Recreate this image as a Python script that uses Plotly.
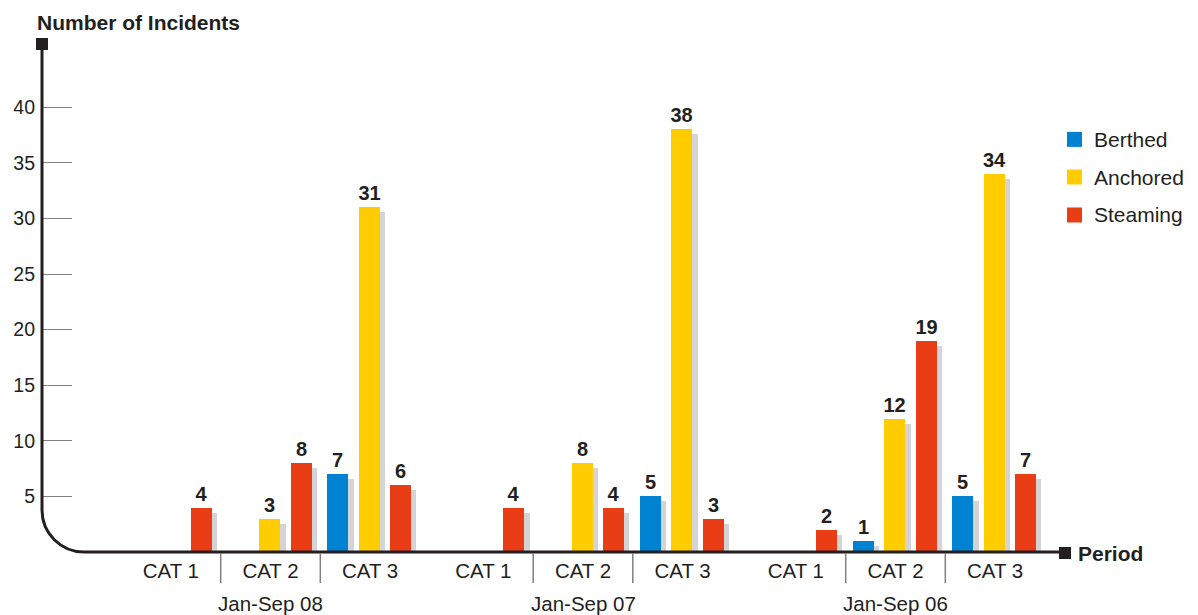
import plotly.graph_objects as go

# ---- data -------------------------------------------------------------
periods = ["Jan-Sep 08", "Jan-Sep 07", "Jan-Sep 06"]
categories = ["CAT 1", "CAT 2", "CAT 3"]
series_names = ["Berthed", "Anchored", "Steaming"]

# values per period, in category order (None = no incident bar)
berthed = [None, None, 7, None, None, 5, None, 1, 5]
anchored = [None, 3, 31, None, 8, 38, None, 12, 34]
steaming = [4, 8, 6, 4, 4, 3, 2, 19, 7]

y_ticks = [5, 10, 15, 20, 25, 30, 35, 40]

# ---- styling ----------------------------------------------------------
FONT = "Liberation Sans, Arial, Helvetica, sans-serif"
INK = "#231f20"
COLORS = ["#0082d2", "#ffcc00", "#e93d15"]
SHADOW = "#d4d4d6"
GRID_GREY = "#808080"

W, H = 1198, 615
L, R, T, B = 42, 1060, 44, 552          # plot area edges in pixels
PX_PER_CAT = 99.6                       # width of one category slot
X0_PX = 121.1                           # left edge of the first category
PX_PER_UNIT = 11.12                     # vertical pixels per incident
GROUP_STEP = 312.5 / PX_PER_CAT         # distance between period groups
OFFSETS = [-0.325, -0.007, 0.307]       # bar centres relative to slot centre
BAR_W = 21 / PX_PER_CAT
SH_DX = 5.3 / PX_PER_CAT
SH_DY = 5 / PX_PER_UNIT

x_range = [(L - X0_PX) / PX_PER_CAT, (R - X0_PX) / PX_PER_CAT]
y_range = [0, (B - T) / PX_PER_UNIT]


def px_x(px):
    return (px - L) / (R - L)


def px_y(py):
    return (B - py) / (B - T)


def slot_centre(g, c):
    return g * GROUP_STEP + c + 0.5


slots = [(g, c) for g in range(len(periods)) for c in range(len(categories))]

fig = go.Figure()

all_series = [berthed, anchored, steaming]

# drop shadows first so the coloured bars sit on top
for s, vals in enumerate(all_series):
    xs, ys = [], []
    for (g, c), v in zip(slots, vals):
        if v is None:
            continue
        xs.append(slot_centre(g, c) + OFFSETS[s] + SH_DX)
        ys.append(v - SH_DY)
    fig.add_trace(go.Bar(x=xs, y=ys, width=BAR_W, marker=dict(color=SHADOW, line=dict(width=0)),
                         hoverinfo="skip", showlegend=False))

for s, vals in enumerate(all_series):
    xs, ys = [], []
    for (g, c), v in zip(slots, vals):
        if v is None:
            continue
        xs.append(slot_centre(g, c) + OFFSETS[s])
        ys.append(v)
    fig.add_trace(go.Bar(
        x=xs, y=ys, width=BAR_W, name=series_names[s],
        marker=dict(color=COLORS[s], line=dict(width=0)),
        text=[str(v) for v in ys], textposition="outside",
        textfont=dict(family=FONT, size=20, color=INK, weight="bold"),
        cliponaxis=False, constraintext="none", showlegend=False,
    ))

shapes = []
# axes: vertical line, rounded corner, horizontal line
rx, ry = px_x(L + 42), 42 / (B - T)
k = 0.5523
shapes.append(dict(
    type="path", xref="paper", yref="paper",
    path=(f"M 0,1 L 0,{ry} C 0,{ry * (1 - k)} {rx * (1 - k)},0 {rx},0 "
          f"L {px_x(1059)},0"),
    line=dict(color=INK, width=3),
))
# end markers
shapes.append(dict(type="rect", xref="paper", yref="paper",
                   x0=px_x(36), x1=px_x(48), y0=px_y(50), y1=px_y(38),
                   fillcolor=INK, line=dict(width=0)))
shapes.append(dict(type="rect", xref="paper", yref="paper",
                   x0=px_x(1059), x1=px_x(1071), y0=px_y(559), y1=px_y(547),
                   fillcolor=INK, line=dict(width=0)))
# category separators under the axis
for g in range(len(periods)):
    for c in range(1, len(categories)):
        xb = g * GROUP_STEP + c
        shapes.append(dict(type="line", xref="x", yref="paper", x0=xb, x1=xb,
                           y0=px_y(553), y1=px_y(583),
                           line=dict(color=GRID_GREY, width=1.5)))

annotations = []
# period labels under each group
for g, p in enumerate(periods):
    annotations.append(dict(text=p, xref="x", yref="paper", x=slot_centre(g, 1), y=px_y(603),
                            xanchor="center", yanchor="middle", showarrow=False,
                            font=dict(family=FONT, size=20.5, color=INK)))
# axis titles
annotations.append(dict(text="Number of Incidents", xref="paper", yref="paper",
                        x=px_x(35), y=px_y(22), xanchor="left", yanchor="middle",
                        showarrow=False, font=dict(family=FONT, size=21, color=INK, weight="bold")))
annotations.append(dict(text="Period", xref="paper", yref="paper",
                        x=px_x(1076), y=px_y(553.4), xanchor="left", yanchor="middle",
                        showarrow=False, font=dict(family=FONT, size=21, color=INK, weight="bold")))

# legend
legend_mid = [139.4, 177, 215]
for s, name in enumerate(series_names):
    ym = legend_mid[s]
    shapes.append(dict(type="rect", xref="paper", yref="paper",
                       x0=px_x(1067), x1=px_x(1082), y0=px_y(ym + 7.5), y1=px_y(ym - 7.5),
                       fillcolor=COLORS[s], line=dict(width=0)))
    annotations.append(dict(text=name, xref="paper", yref="paper",
                            x=px_x(1092), y=px_y(ym), xanchor="left", yanchor="middle",
                            showarrow=False, font=dict(family=FONT, size=21, color=INK)))

fig.update_layout(
    width=W, height=H,
    margin=dict(l=L, r=W - R, t=T, b=H - B, pad=0),
    paper_bgcolor="white", plot_bgcolor="white",
    barmode="overlay", bargap=0,
    showlegend=False,
    font=dict(family=FONT, color=INK),
    xaxis=dict(range=x_range, showgrid=False, zeroline=False, showline=False,
               tickmode="array",
               tickvals=[slot_centre(g, c) for g, c in slots],
               ticktext=[categories[c] for g, c in slots],
               ticks="", tickfont=dict(family=FONT, size=20.5, color=INK),
               ticklabelstandoff=4),
    yaxis=dict(range=y_range, showgrid=False, zeroline=False, showline=False,
               tickmode="array", tickvals=y_ticks, ticktext=[str(v) for v in y_ticks],
               ticks="inside", ticklen=30, tickcolor=GRID_GREY, tickwidth=1.2,
               tickfont=dict(family=FONT, size=19.5, color=INK),
               ticklabelstandoff=6),
    shapes=shapes, annotations=annotations,
)

fig.write_html("out.html")
